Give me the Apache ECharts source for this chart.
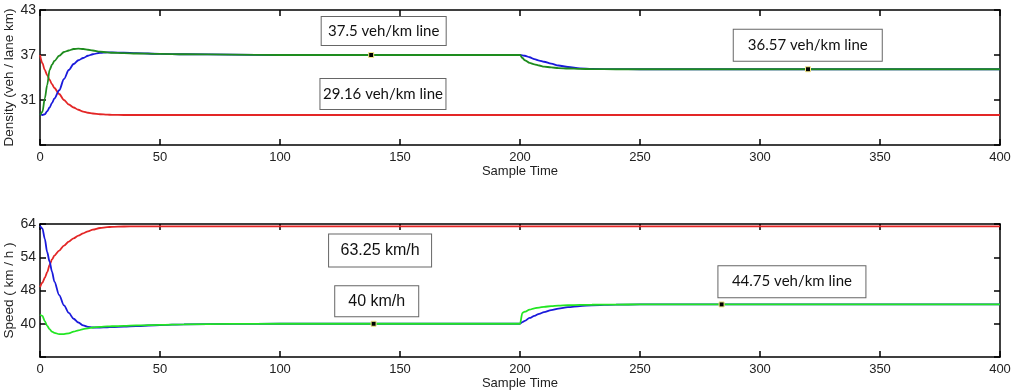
<!DOCTYPE html>
<html><head><meta charset="utf-8">
<script src="https://cdn.jsdelivr.net/npm/echarts@6/dist/echarts.min.js"></script>
<style>html,body{margin:0;padding:0;background:#fff}#c{width:1020px;height:392px}</style>
</head><body><div id="c"></div>
<script>
const times = [0,1,2,3,4,5,6,8,10,12,14,16,18,20,22,25,28,30,35,40,50,60,80,100,150,200,
  201,202,204,206,208,210,213,216,220,225,230,240,250,300,350,400];

const densityRed = [37.0,35.9,35.0,34.3,33.7,33.1,32.6,31.8,31.0,30.4,30.0,29.7,29.45,29.3,29.2,29.1,29.05,29.02,29.0,29.0,29.0,29.0,29.0,29.0,29.0,29.0,
  29.0,29.0,29.0,29.0,29.0,29.0,29.0,29.0,29.0,29.0,29.0,29.0,29.0,29.0,29.0,29.0];
const densityBlue = [29.2,29.0,29.1,29.5,30.0,30.6,31.2,32.3,33.8,35.0,35.8,36.3,36.6,36.9,37.1,37.3,37.35,37.35,37.3,37.25,37.15,37.1,37.05,37.0,37.0,37.0,
  36.95,36.9,36.7,36.45,36.25,36.1,35.85,35.6,35.4,35.22,35.15,35.11,35.1,35.1,35.1,35.1];
const densityGreen = [29.0,29.4,31.2,33.0,35.0,35.7,36.2,36.9,37.4,37.6,37.8,37.85,37.8,37.7,37.6,37.45,37.35,37.3,37.25,37.2,37.15,37.1,37.05,37.0,37.0,37.0,
  36.6,36.3,35.95,35.75,35.6,35.45,35.35,35.25,35.2,35.15,35.12,35.1,35.1,35.1,35.1,35.1];

const speedRed = [48.6,49.4,50.3,51.3,52.6,53.6,54.5,56.0,57.5,58.7,59.7,60.5,61.2,61.8,62.3,62.8,63.05,63.15,63.25,63.3,63.3,63.3,63.3,63.3,63.3,63.3,
  63.3,63.3,63.3,63.3,63.3,63.3,63.3,63.3,63.3,63.3,63.3,63.3,63.3,63.3,63.3,63.3];
const speedBlue = [63.5,62.7,59.5,55.5,53.2,51.4,49.6,46.9,44.4,42.6,41.2,40.3,39.6,39.25,39.1,39.1,39.15,39.2,39.3,39.45,39.7,39.85,39.95,40.0,40.0,40.0,
  40.4,40.7,41.4,41.9,42.4,42.8,43.3,43.65,44.0,44.25,44.45,44.6,44.65,44.65,44.65,44.65];
const speedGreen = [42.2,41.9,40.6,39.5,38.7,38.1,37.8,37.5,37.5,37.7,38.1,38.4,38.7,38.9,39.1,39.25,39.35,39.4,39.5,39.6,39.75,39.85,39.95,40.0,40.0,40.0,
  42.6,42.9,43.4,43.7,43.9,44.05,44.25,44.35,44.45,44.52,44.57,44.62,44.65,44.65,44.65,44.65];

const xTicks = [0,50,100,150,200,250,300,350,400];
const densityTickLabels = ['', '31', '37', '43'];
const speedKnots = [32, 40, 48, 54, 64];
const speedTickLabels = ['', '40', '48', '54', '64'];

const densityNotes = ['37.5 veh/km line', '29.16 veh/km line', '36.57 veh/km line'];
const speedNotes = ['63.25 km/h', '40 km/h', '44.75 veh/km line'];

function speedPos(v) {
  for (let i = 0; i < speedKnots.length - 1; i++) {
    if (v <= speedKnots[i + 1] || i === speedKnots.length - 2) {
      return i + (v - speedKnots[i]) / (speedKnots[i + 1] - speedKnots[i]);
    }
  }
}
function pairs(vals, map) { return times.map((t, i) => [t, map ? map(vals[i]) : vals[i]]); }

const chart = echarts.init(document.getElementById('c'), null, {renderer: 'canvas'});
const arial = "'Liberation Sans', Arial, sans-serif";
const lato = "Lato, Carlito, sans-serif";
const axisFont = {fontFamily: arial, color: '#222'};
function xAx(grid, pos, show) {
  return {
    type: 'value', gridIndex: grid, position: pos, min: 0, max: 400, interval: 50,
    axisLine: {show: true, onZero: false, lineStyle: {color: '#000', width: 1.5}},
    axisTick: {show: true, inside: true, length: 6, lineStyle: {color: '#000', width: 1.5}},
    axisLabel: {show: show, fontSize: 13, margin: 6, ...axisFont},
    splitLine: {show: false},
    name: show ? 'Sample Time' : '', nameLocation: 'middle', nameGap: 20, nameMoveOverlap: false,
    nameTextStyle: {fontSize: 13, ...axisFont}
  };
}
function yAx(grid, pos, show, min, max, interval, fmt, name) {
  return {
    type: 'value', gridIndex: grid, position: pos, min: min, max: max, interval: interval,
    axisLine: {show: true, onZero: false, lineStyle: {color: '#000', width: 1.5}},
    axisTick: {show: true, inside: true, length: 6, lineStyle: {color: '#000', width: 1.5}},
    axisLabel: {show: show, fontSize: 14, margin: 4, formatter: fmt, ...axisFont},
    splitLine: {show: false},
    name: name || '', nameLocation: 'middle', nameGap: 24, nameMoveOverlap: false,
    nameTextStyle: {fontSize: 13.5, ...axisFont}
  };
}
function note(text, coord, w, h, font, size) {
  return {
    coord: coord, symbol: 'rect', symbolSize: 0,
    label: {
      show: true, position: 'inside', formatter: text,
      backgroundColor: '#fff', borderColor: '#666', borderWidth: 1,
      width: w, height: h, lineHeight: h, align: 'center', verticalAlign: 'middle',
      padding: [6, 8], fontFamily: font, fontSize: size, color: '#111'
    }
  };
}
function dot(coord) {
  return {coord: coord, symbol: 'rect', symbolSize: 5,
    itemStyle: {color: '#000', borderColor: '#f5e98a', borderWidth: 1}, label: {show: false}};
}
function line(name, data, xi, yi, color, mp) {
  const s = {
    name: name, type: 'line', xAxisIndex: xi, yAxisIndex: yi, data: data,
    showSymbol: false, smooth: 0.3, smoothMonotone: 'x',
    lineStyle: {color: color, width: 1.8}, itemStyle: {color: color}, z: 3
  };
  if (mp) s.markPoint = {data: mp, z: 10};
  return s;
}

chart.setOption({
  animation: false,
  backgroundColor: '#fff',
  grid: [
    {left: 40, top: 10, width: 960, height: 135, containLabel: false, outerBoundsMode: 'none'},
    {left: 40, top: 224, width: 960, height: 133, containLabel: false, outerBoundsMode: 'none'}
  ],
  xAxis: [xAx(0, 'bottom', true), xAx(0, 'top', false), xAx(1, 'bottom', true), xAx(1, 'top', false)],
  yAxis: [
    yAx(0, 'left', true, 25, 43, 6, (v) => densityTickLabels[Math.round((v - 25) / 6)], 'Density (veh / lane km)'),
    yAx(0, 'right', false, 25, 43, 6),
    yAx(1, 'left', true, 0, 4, 1, (v) => speedTickLabels[Math.round(v)], 'Speed ( km / h )'),
    yAx(1, 'right', false, 0, 4, 1)
  ],
  series: [
    line('densRed', pairs(densityRed), 0, 0, '#e32626'),
    line('densBlue', pairs(densityBlue), 0, 0, '#1a1adb'),
    line('densGreen', pairs(densityGreen), 0, 0, '#1e8c1e', [
      note(densityNotes[0], [143.2, 40.2], 108, 16, lato, 15),
      note(densityNotes[1], [142.9, 31.8], 109, 18, lato, 15),
      note(densityNotes[2], [319.9, 38.3], 132, 19, lato, 15),
      dot([138, 37.0]), dot([320, 35.1])
    ]),
    line('spdRed', pairs(speedRed, speedPos), 2, 2, '#e32626'),
    line('spdBlue', pairs(speedBlue, speedPos), 2, 2, '#1a1adb'),
    line('spdGreen', pairs(speedGreen, speedPos), 2, 2, '#22e622', [
      note(speedNotes[0], [141.7, speedPos(56.0)], 86, 20, arial, 16),
      note(speedNotes[1], [140.3, speedPos(45.4)], 67, 18, arial, 16),
      note(speedNotes[2], [313.3, speedPos(49.6)], 131, 19, lato, 15),
      dot([139, speedPos(40.0)]), dot([284, speedPos(44.65)])
    ])
  ]
});
</script></body></html>
